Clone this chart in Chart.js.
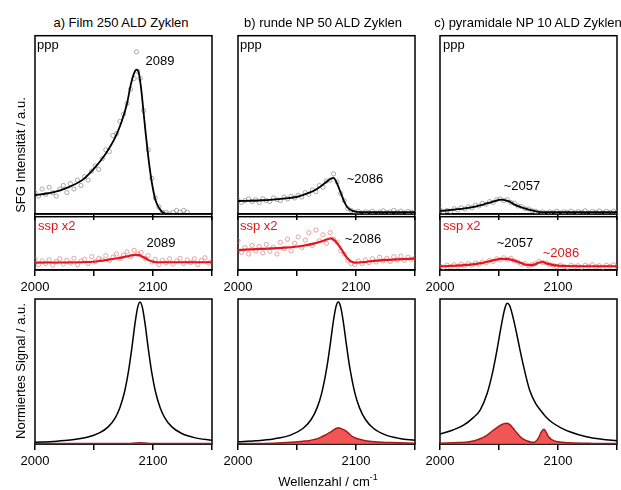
<!DOCTYPE html>
<html>
<head>
<meta charset="utf-8">
<script src="https://cdn.jsdelivr.net/npm/chart.js@4.4.0/dist/chart.umd.min.js"></script>
<style>
  body { margin: 0; background: #fff; }
  #wrap { position: relative; width: 621px; height: 490px; overflow: hidden;
          font-family: "Liberation Sans", Arial, sans-serif; font-size: 13px; color: #000; }
  canvas { position: absolute; }
  .lbl { position: absolute; white-space: nowrap; line-height: 1; transform: translate(-50%, -50%); }
  .lbl.left { transform: translate(0, -50%); }
  .lbl.rot { transform: translate(-50%, -50%) rotate(-90deg); }
  .red { color: #e3161b; }
  sup { font-size: 9px; line-height: 0; }
</style>
</head>
<body>
<div id="wrap"></div>
<script>
// x range and labelled ticks (cm-1)
const xMin = 2000;
const xMax = 2150;
const tickLabels = [2000, 2100];

const panelTitles = ["a) Film 250 ALD Zyklen", "b) runde NP 50 ALD Zyklen", "c) pyramidale NP 10 ALD Zyklen"];

// common scan grid for the measured points
const scanX = [2000,2003,2006,2009,2012,2015,2018,2021,2024,2027,2030,2033,2036,2039,2042,2045,2048,2051,2054,2057,
  2060,2063,2066,2069,2072,2075,2078,2081,2084,2087,2090,2093,2096,2099,2102,2105,2108,2111,2114,2117,
  2120,2123,2126,2129,2132,2135,2138,2141,2144,2147,2150];

// a) Film 250 ALD - ppp
const filmPppX = [2000,2003,2006,2009,2012,2015,2018,2021,2024,2027,2030,2033,2036,2039,2042,2045,2048,2051,2054,2057,
  2060,2063,2066,2069,2072,2075,2078,2081,2084,2086,2087,2089,2092,2096,2099,2102,2105,2108,2111,2114,2117,2120,2123,2126,2129];
const filmPppY = [0.12,0.10,0.14,0.11,0.15,0.12,0.10,0.14,0.16,0.12,0.17,0.14,0.19,0.16,0.21,0.19,0.24,0.27,0.25,0.31,
  0.36,0.35,0.44,0.45,0.52,0.56,0.62,0.70,0.76,0.91,0.80,0.76,0.58,0.36,0.20,0.09,0.04,0.01,0.01,0.0,0.01,0.02,0.01,0.02,0.01];
const filmPppFitX = [2000,2010,2020,2030,2040,2050,2058,2063,2068,2073,2078,2081,2084,2086,2088,2090,2092,2094,2096,2098,2100,2102,2105,2108,2111,2118,2150];
const filmPppFitY = [0.105,0.115,0.13,0.155,0.19,0.255,0.32,0.37,0.43,0.51,0.62,0.72,0.79,0.81,0.79,0.70,0.57,0.44,0.32,0.22,0.14,0.08,0.035,0.01,0.002,0,0];
// a) ssp
const filmSspY = [0.20,0.10,0.17,0.12,0.19,0.09,0.16,0.21,0.11,0.18,0.13,0.22,0.10,0.17,0.20,0.12,0.25,0.16,0.22,0.19,
  0.27,0.18,0.24,0.30,0.21,0.28,0.34,0.25,0.37,0.30,0.33,0.22,0.27,0.15,0.20,0.10,0.18,0.13,0.21,0.11,
  0.17,0.22,0.12,0.19,0.14,0.21,0.10,0.18,0.23,0.13,0.17];
const filmSspFitX = [2000,2040,2050,2060,2070,2078,2085,2088,2092,2096,2100,2105,2150];
const filmSspFitY = [0.14,0.145,0.155,0.185,0.22,0.255,0.285,0.28,0.24,0.19,0.155,0.145,0.145];

// b) runde NP 50 ALD - ppp
const roundPppY = [0.08,0.065,0.075,0.085,0.07,0.08,0.065,0.085,0.075,0.07,0.09,0.08,0.075,0.095,0.085,0.10,0.09,0.105,0.095,0.12,
  0.11,0.135,0.125,0.16,0.15,0.185,0.19,0.225,0.18,0.115,0.075,0.03,0.02,0.01,0.015,0.005,0.012,0.008,0.015,0.005,
  0.01,0.018,0.008,0.012,0.02,0.01,0.016,0.006,0.014,0.01,0.008];
const roundPppFitX = [2000,2020,2040,2050,2060,2065,2070,2074,2078,2081,2084,2087,2090,2093,2097,2105,2150];
const roundPppFitY = [0.073,0.077,0.088,0.096,0.118,0.133,0.155,0.175,0.195,0.203,0.17,0.12,0.07,0.035,0.018,0.01,0.01];
// b) ssp
const roundSspY = [0.55,0.33,0.42,0.30,0.46,0.36,0.44,0.32,0.48,0.35,0.43,0.30,0.52,0.40,0.58,0.36,0.50,0.62,0.42,0.56,
  0.70,0.46,0.75,0.55,0.66,0.50,0.70,0.58,0.52,0.36,0.30,0.18,0.12,0.10,0.17,0.12,0.19,0.14,0.21,0.15,
  0.24,0.17,0.22,0.16,0.25,0.19,0.26,0.18,0.24,0.20,0.23];
const roundSspFitX = [2000,2020,2040,2055,2065,2072,2079,2083,2087,2091,2095,2099,2105,2115,2125,2140,2150];
const roundSspFitY = [0.375,0.395,0.42,0.455,0.50,0.545,0.595,0.53,0.41,0.27,0.17,0.14,0.145,0.17,0.19,0.205,0.215];

// c) pyramidale NP 10 ALD - ppp
const pyrPppY = [0.025,0.012,0.02,0.015,0.03,0.022,0.035,0.028,0.04,0.035,0.05,0.045,0.06,0.055,0.07,0.065,0.08,0.085,0.075,0.08,
  0.065,0.06,0.045,0.042,0.03,0.028,0.018,0.015,0.008,0.012,0.005,0.012,0.008,0.015,0.006,0.012,0.009,0.016,0.007,0.013,
  0.01,0.018,0.006,0.014,0.01,0.017,0.008,0.015,0.009,0.016,0.011];
const pyrPppFitX = [2000,2021,2035,2045,2052,2058,2064,2071,2078,2086,2150];
const pyrPppFitY = [0.017,0.031,0.05,0.07,0.081,0.072,0.05,0.033,0.02,0.01,0.01];
// c) ssp
const pyrSspY = [0.08,0.05,0.09,0.06,0.10,0.07,0.11,0.08,0.12,0.09,0.13,0.11,0.15,0.13,0.18,0.16,0.21,0.19,0.23,0.20,
  0.22,0.17,0.15,0.11,0.12,0.08,0.10,0.12,0.16,0.14,0.13,0.10,0.09,0.06,0.09,0.07,0.05,0.09,0.06,0.08,
  0.05,0.09,0.07,0.10,0.06,0.08,0.05,0.09,0.07,0.10,0.06];
const pyrSspFitX = [2000,2021,2035,2045,2052,2058,2064,2070,2076,2080,2084,2087,2091,2096,2105,2150];
const pyrSspFitY = [0.07,0.09,0.13,0.18,0.21,0.205,0.17,0.12,0.09,0.10,0.14,0.15,0.12,0.09,0.075,0.07];

// normalised spectra (black = ppp, red = ssp)
const filmNormX = [2000,2015,2030,2045,2055,2062,2068,2072,2076,2079,2082,2085,2087,2089,2091,2093,2096,2099,2102,2106,2110,2116,2124,2135,2150];
const filmNormY = [0.012,0.018,0.027,0.048,0.078,0.118,0.181,0.252,0.364,0.49,0.658,0.845,0.942,0.98,0.942,0.845,0.658,0.49,0.364,0.252,0.181,0.118,0.074,0.044,0.026];
const filmNormSspX = [2000,2080,2085,2089,2093,2098,2150];
const filmNormSspY = [0.003,0.003,0.007,0.009,0.007,0.003,0.003];

const roundNormX = [2000,2015,2030,2045,2055,2062,2067,2071,2075,2078,2081,2083,2085,2087,2089,2092,2095,2099,2103,2108,2115,2125,2137,2150];
const roundNormY = [0.015,0.022,0.035,0.063,0.107,0.169,0.249,0.353,0.514,0.678,0.856,0.946,0.98,0.946,0.856,0.678,0.514,0.353,0.249,0.169,0.107,0.063,0.038,0.025];
const roundNormSspX = [2000,2030,2045,2055,2060,2065,2068,2071,2074,2078,2081,2083,2085,2087,2089,2091,2094,2096,2099,2102,2108,2116,2130,2150];
const roundNormSspY = [0.003,0.006,0.012,0.019,0.023,0.032,0.039,0.05,0.062,0.08,0.097,0.107,0.112,0.108,0.101,0.092,0.072,0.057,0.044,0.034,0.023,0.016,0.01,0.006];

const pyrNormX = [2000,2011,2020,2028,2034,2040,2045,2049,2052,2055,2057,2059,2062,2065,2068,2071,2076,2081,2085,2090,2096,2103,2110,2124,2137,2150];
const pyrNormY = [0.069,0.097,0.13,0.18,0.234,0.35,0.51,0.68,0.82,0.936,0.97,0.955,0.87,0.76,0.64,0.53,0.37,0.28,0.234,0.185,0.143,0.11,0.085,0.05,0.033,0.023];
const pyrNormSspX = [2000,2015,2025,2033,2040,2044,2048,2052,2056,2059,2062,2065,2068,2071,2074,2077,2080,2082,2084,2086,2088,2090,2092,2095,2100,2110,2130,2150];
const pyrNormSspY = [0.005,0.01,0.016,0.033,0.062,0.088,0.112,0.133,0.143,0.135,0.108,0.078,0.05,0.032,0.021,0.014,0.012,0.025,0.05,0.085,0.101,0.08,0.05,0.028,0.015,0.008,0.004,0.003];

const FONT = '"Liberation Sans", Arial, sans-serif';
const wrap = document.getElementById("wrap");

// panel boxes in page pixels
const cols = [{ l: 35, r: 212 }, { l: 238, r: 415 }, { l: 440, r: 617 }];
const rows = {
  ppp: { t: 33, b: 214, axis: 8, labels: false },
  ssp: { t: 214, b: 270, axis: 26, labels: true },
  norm: { t: 299, b: 444, axis: 26, labels: true },
};

function pts(xs, ys) {
  return xs.map((x, i) => ({ x: x, y: ys[i] }));
}

function fitLine(xs, ys, color, width) {
  return { data: pts(xs, ys), borderColor: color, borderWidth: width, pointRadius: 0,
    cubicInterpolationMode: "monotone", fill: false };
}

function scatter(xs, ys, color) {
  return { data: pts(xs, ys), showLine: false, pointRadius: 2.1, pointBorderWidth: 0.7,
    pointBorderColor: color, pointBackgroundColor: "rgba(0,0,0,0)", borderColor: color };
}

function filled(xs, ys) {
  return { data: pts(xs, ys), borderColor: "#a81818", borderWidth: 1.5, pointRadius: 0,
    backgroundColor: "rgba(240,72,72,0.92)", fill: "origin", cubicInterpolationMode: "monotone" };
}

// box frame around each panel, drawn under the data
const framePlugin = {
  id: "frame",
  beforeDatasetsDraw(chart) {
    const a = chart.chartArea;
    const ctx = chart.ctx;
    ctx.save();
    ctx.strokeStyle = "#000";
    ctx.lineWidth = 1.5;
    ctx.strokeRect(a.left, a.top, a.right - a.left, a.bottom - a.top);
    ctx.restore();
  },
};

function addChart(col, row, datasets) {
  const pad = 22;
  const w = col.r - col.l + 2 * pad;
  const h = row.b - row.t + 2 + row.axis;
  const c = document.createElement("canvas");
  c.width = w;
  c.height = h;
  c.style.left = col.l - pad + "px";
  c.style.top = row.t - 2 + "px";
  c.style.width = w + "px";
  c.style.height = h + "px";
  wrap.appendChild(c);
  new Chart(c, {
    type: "line",
    data: { datasets: datasets },
    options: {
      responsive: false,
      animation: false,
      devicePixelRatio: 1,
      layout: { padding: { left: pad, right: pad, top: 2, bottom: 0 } },
      plugins: { legend: { display: false }, tooltip: { enabled: false } },
      scales: {
        x: {
          type: "linear", min: xMin, max: xMax,
          afterFit: (s) => { s.height = row.axis; },
          grid: { drawOnChartArea: false, drawTicks: true, tickLength: 6, color: "#000", lineWidth: 1.5 },
          border: { display: true, color: "#000", width: 1.5 },
          ticks: {
            display: row.labels, stepSize: 50, autoSkip: false, maxRotation: 0, padding: 4,
            color: "#000", font: { family: FONT, size: 13 },
            callback: (v) => (tickLabels.includes(v) ? String(v) : ""),
          },
        },
        y: { display: false, min: 0, max: 1 },
      },
    },
    plugins: [framePlugin],
  });
}

const PPP_DOT = "#858585";
const SSP_DOT = "#e07c7c";
const SSP_LINE = "#e3161b";

// a)
addChart(cols[0], rows.ppp, [fitLine(filmPppFitX, filmPppFitY, "#000", 1.8), scatter(filmPppX, filmPppY, PPP_DOT)]);
addChart(cols[0], rows.ssp, [fitLine(filmSspFitX, filmSspFitY, SSP_LINE, 2.2), scatter(scanX, filmSspY, SSP_DOT)]);
addChart(cols[0], rows.norm, [fitLine(filmNormX, filmNormY, "#000", 1.5), filled(filmNormSspX, filmNormSspY)]);
// b)
addChart(cols[1], rows.ppp, [fitLine(roundPppFitX, roundPppFitY, "#000", 1.8), scatter(scanX, roundPppY, PPP_DOT)]);
addChart(cols[1], rows.ssp, [fitLine(roundSspFitX, roundSspFitY, SSP_LINE, 2.2), scatter(scanX, roundSspY, SSP_DOT)]);
addChart(cols[1], rows.norm, [fitLine(roundNormX, roundNormY, "#000", 1.5), filled(roundNormSspX, roundNormSspY)]);
// c)
addChart(cols[2], rows.ppp, [fitLine(pyrPppFitX, pyrPppFitY, "#000", 1.8), scatter(scanX, pyrPppY, PPP_DOT)]);
addChart(cols[2], rows.ssp, [fitLine(pyrSspFitX, pyrSspFitY, SSP_LINE, 2.2), scatter(scanX, pyrSspY, SSP_DOT)]);
addChart(cols[2], rows.norm, [fitLine(pyrNormX, pyrNormY, "#000", 1.5), filled(pyrNormSspX, pyrNormSspY)]);

// text
function addText(html, x, y, cls) {
  const d = document.createElement("div");
  d.className = "lbl " + (cls || "");
  d.innerHTML = html;
  d.style.left = x + "px";
  d.style.top = y + "px";
  wrap.appendChild(d);
}

addText(panelTitles[0], 121, 22);
addText(panelTitles[1], 323, 22);
addText(panelTitles[2], 528, 22);

addText("SFG Intensität / a.u.", 20, 155, "rot");
addText("Normiertes Signal / a.u.", 20, 371, "rot");
addText("Wellenzahl / cm<sup>-1</sup>", 328, 481);

addText("ppp", 37, 44, "left");
addText("ppp", 240, 44, "left");
addText("ppp", 443, 44, "left");
addText("ssp x2", 38, 225, "left red");
addText("ssp x2", 240, 225, "left red");
addText("ssp x2", 443, 225, "left red");

addText("2089", 160, 60);
addText("2089", 161, 242);
addText("~2086", 365, 178);
addText("~2086", 363, 238);
addText("~2057", 522, 185);
addText("~2057", 515, 242);
addText("~2086", 561, 252, "red");
</script>
</body>
</html>
